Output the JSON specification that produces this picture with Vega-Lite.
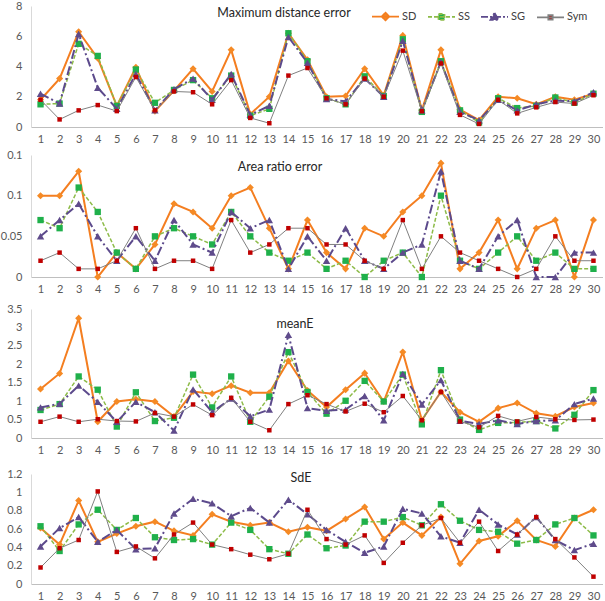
{
"$schema":"https://vega.github.io/schema/vega-lite/v6.json",
"padding":{"left":0,"top":0,"right":0,"bottom":0},
"autosize":{"type":"pad"},
"bounds":"flush",
"spacing":28,
"config":{
 "view":{"stroke":null},
 "font":"Lato",
 "axis":{"grid":false,"ticks":false,"labelFont":"Lato","labelFontSize":11,"labelColor":"#595959","domainColor":"#BFBFBF"},
 "axisX":{"labelAngle":0,"labelPadding":6},
 "axisY":{"labelPadding":9,"domainColor":"#D9D9D9"},
 "title":{"font":"Lato","fontSize":12.5,"fontWeight":400,"color":"#262626","anchor":"middle","frame":"group"},
 "style":{"group-title":{"font":"Lato","fontSize":12.5,"fontWeight":400},"guide-label":{"font":"Lato"}},
 "legend":{"labelFont":"Lato"}
},
"datasets":{
"p1":[
{"x":1,"s":"SD","v":1.8},{"x":1,"s":"SS","v":1.5},{"x":1,"s":"SG","v":2.2},{"x":1,"s":"Sym","v":1.8},
{"x":2,"s":"SD","v":3.2},{"x":2,"s":"SS","v":1.55},{"x":2,"s":"SG","v":1.55},{"x":2,"s":"Sym","v":0.5},
{"x":3,"s":"SD","v":6.3},{"x":3,"s":"SS","v":5.5},{"x":3,"s":"SG","v":6.15},{"x":3,"s":"Sym","v":1.1},
{"x":4,"s":"SD","v":4.55},{"x":4,"s":"SS","v":4.7},{"x":4,"s":"SG","v":2.6},{"x":4,"s":"Sym","v":1.45},
{"x":5,"s":"SD","v":1.4},{"x":5,"s":"SS","v":1.4},{"x":5,"s":"SG","v":1.2},{"x":5,"s":"Sym","v":1.05},
{"x":6,"s":"SD","v":3.95},{"x":6,"s":"SS","v":3.8},{"x":6,"s":"SG","v":3.5},{"x":6,"s":"Sym","v":3.3},
{"x":7,"s":"SD","v":1.05},{"x":7,"s":"SS","v":1.6},{"x":7,"s":"SG","v":1.1},{"x":7,"s":"Sym","v":1.1},
{"x":8,"s":"SD","v":2.4},{"x":8,"s":"SS","v":2.45},{"x":8,"s":"SG","v":2.5},{"x":8,"s":"Sym","v":2.35},
{"x":9,"s":"SD","v":3.85},{"x":9,"s":"SS","v":3.1},{"x":9,"s":"SG","v":3.2},{"x":9,"s":"Sym","v":2.3},
{"x":10,"s":"SD","v":2.35},{"x":10,"s":"SS","v":1.9},{"x":10,"s":"SG","v":1.8},{"x":10,"s":"Sym","v":1.5},
{"x":11,"s":"SD","v":5.1},{"x":11,"s":"SS","v":3.4},{"x":11,"s":"SG","v":3.5},{"x":11,"s":"Sym","v":3.1},
{"x":12,"s":"SD","v":0.85},{"x":12,"s":"SS","v":0.75},{"x":12,"s":"SG","v":0.8},{"x":12,"s":"Sym","v":0.6},
{"x":13,"s":"SD","v":2.0},{"x":13,"s":"SS","v":1.2},{"x":13,"s":"SG","v":1.4},{"x":13,"s":"Sym","v":0.25},
{"x":14,"s":"SD","v":6.2},{"x":14,"s":"SS","v":6.2},{"x":14,"s":"SG","v":5.95},{"x":14,"s":"Sym","v":3.4},
{"x":15,"s":"SD","v":4.45},{"x":15,"s":"SS","v":4.35},{"x":15,"s":"SG","v":4.25},{"x":15,"s":"Sym","v":3.9},
{"x":16,"s":"SD","v":2.0},{"x":16,"s":"SS","v":1.9},{"x":16,"s":"SG","v":1.85},{"x":16,"s":"Sym","v":1.9},
{"x":17,"s":"SD","v":2.05},{"x":17,"s":"SS","v":1.5},{"x":17,"s":"SG","v":1.7},{"x":17,"s":"Sym","v":1.5},
{"x":18,"s":"SD","v":3.85},{"x":18,"s":"SS","v":3.35},{"x":18,"s":"SG","v":3.2},{"x":18,"s":"Sym","v":3.2},
{"x":19,"s":"SD","v":2.1},{"x":19,"s":"SS","v":2.05},{"x":19,"s":"SG","v":2.0},{"x":19,"s":"Sym","v":2.0},
{"x":20,"s":"SD","v":6.05},{"x":20,"s":"SS","v":5.8},{"x":20,"s":"SG","v":5.7},{"x":20,"s":"Sym","v":5.05},
{"x":21,"s":"SD","v":1.1},{"x":21,"s":"SS","v":1.0},{"x":21,"s":"SG","v":1.1},{"x":21,"s":"Sym","v":1.05},
{"x":22,"s":"SD","v":5.1},{"x":22,"s":"SS","v":4.35},{"x":22,"s":"SG","v":4.3},{"x":22,"s":"Sym","v":4.2},
{"x":23,"s":"SD","v":1.15},{"x":23,"s":"SS","v":1.1},{"x":23,"s":"SG","v":1.0},{"x":23,"s":"Sym","v":0.8},
{"x":24,"s":"SD","v":0.45},{"x":24,"s":"SS","v":0.3},{"x":24,"s":"SG","v":0.45},{"x":24,"s":"Sym","v":0.2},
{"x":25,"s":"SD","v":2.0},{"x":25,"s":"SS","v":1.9},{"x":25,"s":"SG","v":1.8},{"x":25,"s":"Sym","v":1.8},
{"x":26,"s":"SD","v":1.9},{"x":26,"s":"SS","v":1.25},{"x":26,"s":"SG","v":1.1},{"x":26,"s":"Sym","v":0.9},
{"x":27,"s":"SD","v":1.5},{"x":27,"s":"SS","v":1.4},{"x":27,"s":"SG","v":1.5},{"x":27,"s":"Sym","v":1.3},
{"x":28,"s":"SD","v":2.0},{"x":28,"s":"SS","v":1.95},{"x":28,"s":"SG","v":1.75},{"x":28,"s":"Sym","v":1.65},
{"x":29,"s":"SD","v":1.8},{"x":29,"s":"SS","v":1.6},{"x":29,"s":"SG","v":1.7},{"x":29,"s":"Sym","v":1.55},
{"x":30,"s":"SD","v":2.2},{"x":30,"s":"SS","v":2.2},{"x":30,"s":"SG","v":2.3},{"x":30,"s":"Sym","v":2.1}
],
"p2":[
{"x":1,"s":"SD","v":0.10},{"x":1,"s":"SS","v":0.07},{"x":1,"s":"SG","v":0.05},{"x":1,"s":"Sym","v":0.02},
{"x":2,"s":"SD","v":0.10},{"x":2,"s":"SS","v":0.06},{"x":2,"s":"SG","v":0.07},{"x":2,"s":"Sym","v":0.03},
{"x":3,"s":"SD","v":0.13},{"x":3,"s":"SS","v":0.11},{"x":3,"s":"SG","v":0.09},{"x":3,"s":"Sym","v":0.01},
{"x":4,"s":"SD","v":0.00},{"x":4,"s":"SS","v":0.08},{"x":4,"s":"SG","v":0.05},{"x":4,"s":"Sym","v":0.01},
{"x":5,"s":"SD","v":0.03},{"x":5,"s":"SS","v":0.03},{"x":5,"s":"SG","v":0.02},{"x":5,"s":"Sym","v":0.02},
{"x":6,"s":"SD","v":0.01},{"x":6,"s":"SS","v":0.01},{"x":6,"s":"SG","v":0.05},{"x":6,"s":"Sym","v":0.06},
{"x":7,"s":"SD","v":0.04},{"x":7,"s":"SS","v":0.05},{"x":7,"s":"SG","v":0.02},{"x":7,"s":"Sym","v":0.01},
{"x":8,"s":"SD","v":0.09},{"x":8,"s":"SS","v":0.06},{"x":8,"s":"SG","v":0.07},{"x":8,"s":"Sym","v":0.02},
{"x":9,"s":"SD","v":0.08},{"x":9,"s":"SS","v":0.05},{"x":9,"s":"SG","v":0.04},{"x":9,"s":"Sym","v":0.02},
{"x":10,"s":"SD","v":0.06},{"x":10,"s":"SS","v":0.04},{"x":10,"s":"SG","v":0.03},{"x":10,"s":"Sym","v":0.01},
{"x":11,"s":"SD","v":0.10},{"x":11,"s":"SS","v":0.08},{"x":11,"s":"SG","v":0.08},{"x":11,"s":"Sym","v":0.07},
{"x":12,"s":"SD","v":0.11},{"x":12,"s":"SS","v":0.05},{"x":12,"s":"SG","v":0.06},{"x":12,"s":"Sym","v":0.03},
{"x":13,"s":"SD","v":0.06},{"x":13,"s":"SS","v":0.03},{"x":13,"s":"SG","v":0.07},{"x":13,"s":"Sym","v":0.04},
{"x":14,"s":"SD","v":0.01},{"x":14,"s":"SS","v":0.02},{"x":14,"s":"SG","v":0.01},{"x":14,"s":"Sym","v":0.06},
{"x":15,"s":"SD","v":0.07},{"x":15,"s":"SS","v":0.03},{"x":15,"s":"SG","v":0.05},{"x":15,"s":"Sym","v":0.06},
{"x":16,"s":"SD","v":0.03},{"x":16,"s":"SS","v":0.01},{"x":16,"s":"SG","v":0.02},{"x":16,"s":"Sym","v":0.04},
{"x":17,"s":"SD","v":0.01},{"x":17,"s":"SS","v":0.02},{"x":17,"s":"SG","v":0.06},{"x":17,"s":"Sym","v":0.04},
{"x":18,"s":"SD","v":0.06},{"x":18,"s":"SS","v":0.00},{"x":18,"s":"SG","v":0.02},{"x":18,"s":"Sym","v":0.02},
{"x":19,"s":"SD","v":0.05},{"x":19,"s":"SS","v":0.02},{"x":19,"s":"SG","v":0.01},{"x":19,"s":"Sym","v":0.01},
{"x":20,"s":"SD","v":0.08},{"x":20,"s":"SS","v":0.03},{"x":20,"s":"SG","v":0.03},{"x":20,"s":"Sym","v":0.07},
{"x":21,"s":"SD","v":0.10},{"x":21,"s":"SS","v":0.00},{"x":21,"s":"SG","v":0.04},{"x":21,"s":"Sym","v":0.01},
{"x":22,"s":"SD","v":0.14},{"x":22,"s":"SS","v":0.10},{"x":22,"s":"SG","v":0.13},{"x":22,"s":"Sym","v":0.05},
{"x":23,"s":"SD","v":0.01},{"x":23,"s":"SS","v":0.02},{"x":23,"s":"SG","v":0.02},{"x":23,"s":"Sym","v":0.03},
{"x":24,"s":"SD","v":0.03},{"x":24,"s":"SS","v":0.01},{"x":24,"s":"SG","v":0.01},{"x":24,"s":"Sym","v":0.02},
{"x":25,"s":"SD","v":0.07},{"x":25,"s":"SS","v":0.03},{"x":25,"s":"SG","v":0.05},{"x":25,"s":"Sym","v":0.01},
{"x":26,"s":"SD","v":0.01},{"x":26,"s":"SS","v":0.05},{"x":26,"s":"SG","v":0.07},{"x":26,"s":"Sym","v":0.00},
{"x":27,"s":"SD","v":0.06},{"x":27,"s":"SS","v":0.02},{"x":27,"s":"SG","v":0.00},{"x":27,"s":"Sym","v":0.01},
{"x":28,"s":"SD","v":0.07},{"x":28,"s":"SS","v":0.03},{"x":28,"s":"SG","v":0.00},{"x":28,"s":"Sym","v":0.05},
{"x":29,"s":"SD","v":0.00},{"x":29,"s":"SS","v":0.01},{"x":29,"s":"SG","v":0.03},{"x":29,"s":"Sym","v":0.02},
{"x":30,"s":"SD","v":0.07},{"x":30,"s":"SS","v":0.01},{"x":30,"s":"SG","v":0.03},{"x":30,"s":"Sym","v":0.02}
],
"p3":[
{"x":1,"s":"SD","v":1.33},{"x":1,"s":"SS","v":0.76},{"x":1,"s":"SG","v":0.83},{"x":1,"s":"Sym","v":0.44},
{"x":2,"s":"SD","v":1.75},{"x":2,"s":"SS","v":0.92},{"x":2,"s":"SG","v":0.93},{"x":2,"s":"Sym","v":0.58},
{"x":3,"s":"SD","v":3.25},{"x":3,"s":"SS","v":1.67},{"x":3,"s":"SG","v":1.42},{"x":3,"s":"Sym","v":0.44},
{"x":4,"s":"SD","v":0.44},{"x":4,"s":"SS","v":1.31},{"x":4,"s":"SG","v":0.98},{"x":4,"s":"Sym","v":0.51},
{"x":5,"s":"SD","v":0.99},{"x":5,"s":"SS","v":0.31},{"x":5,"s":"SG","v":0.44},{"x":5,"s":"Sym","v":0.46},
{"x":6,"s":"SD","v":1.05},{"x":6,"s":"SS","v":1.24},{"x":6,"s":"SG","v":0.98},{"x":6,"s":"Sym","v":0.45},
{"x":7,"s":"SD","v":0.99},{"x":7,"s":"SS","v":0.46},{"x":7,"s":"SG","v":0.7},{"x":7,"s":"Sym","v":0.68},
{"x":8,"s":"SD","v":0.58},{"x":8,"s":"SS","v":0.55},{"x":8,"s":"SG","v":0.2},{"x":8,"s":"Sym","v":0.58},
{"x":9,"s":"SD","v":1.26},{"x":9,"s":"SS","v":1.72},{"x":9,"s":"SG","v":1.32},{"x":9,"s":"Sym","v":0.91},
{"x":10,"s":"SD","v":1.2},{"x":10,"s":"SS","v":0.83},{"x":10,"s":"SG","v":0.7},{"x":10,"s":"Sym","v":0.62},
{"x":11,"s":"SD","v":1.42},{"x":11,"s":"SS","v":1.67},{"x":11,"s":"SG","v":1.07},{"x":11,"s":"Sym","v":1.09},
{"x":12,"s":"SD","v":1.23},{"x":12,"s":"SS","v":0.44},{"x":12,"s":"SG","v":0.59},{"x":12,"s":"Sym","v":0.44},
{"x":13,"s":"SD","v":1.23},{"x":13,"s":"SS","v":1.12},{"x":13,"s":"SG","v":0.77},{"x":13,"s":"Sym","v":0.21},
{"x":14,"s":"SD","v":2.09},{"x":14,"s":"SS","v":2.33},{"x":14,"s":"SG","v":2.8},{"x":14,"s":"Sym","v":0.92},
{"x":15,"s":"SD","v":1.29},{"x":15,"s":"SS","v":1.25},{"x":15,"s":"SG","v":0.81},{"x":15,"s":"Sym","v":1.16},
{"x":16,"s":"SD","v":0.84},{"x":16,"s":"SS","v":0.66},{"x":16,"s":"SG","v":0.74},{"x":16,"s":"Sym","v":0.92},
{"x":17,"s":"SD","v":1.31},{"x":17,"s":"SS","v":1.01},{"x":17,"s":"SG","v":0.77},{"x":17,"s":"Sym","v":0.72},
{"x":18,"s":"SD","v":1.76},{"x":18,"s":"SS","v":1.55},{"x":18,"s":"SG","v":1.14},{"x":18,"s":"Sym","v":0.93},
{"x":19,"s":"SD","v":0.99},{"x":19,"s":"SS","v":0.99},{"x":19,"s":"SG","v":0.48},{"x":19,"s":"Sym","v":0.7},
{"x":20,"s":"SD","v":2.33},{"x":20,"s":"SS","v":1.72},{"x":20,"s":"SG","v":1.74},{"x":20,"s":"Sym","v":1.14},
{"x":21,"s":"SD","v":0.49},{"x":21,"s":"SS","v":0.37},{"x":21,"s":"SG","v":0.91},{"x":21,"s":"Sym","v":0.48},
{"x":22,"s":"SD","v":1.25},{"x":22,"s":"SS","v":1.84},{"x":22,"s":"SG","v":1.57},{"x":22,"s":"Sym","v":1.25},
{"x":23,"s":"SD","v":0.7},{"x":23,"s":"SS","v":0.5},{"x":23,"s":"SG","v":0.47},{"x":23,"s":"Sym","v":0.45},
{"x":24,"s":"SD","v":0.44},{"x":24,"s":"SS","v":0.22},{"x":24,"s":"SG","v":0.38},{"x":24,"s":"Sym","v":0.29},
{"x":25,"s":"SD","v":0.81},{"x":25,"s":"SS","v":0.41},{"x":25,"s":"SG","v":0.48},{"x":25,"s":"Sym","v":0.6},
{"x":26,"s":"SD","v":0.95},{"x":26,"s":"SS","v":0.42},{"x":26,"s":"SG","v":0.38},{"x":26,"s":"Sym","v":0.45},
{"x":27,"s":"SD","v":0.67},{"x":27,"s":"SS","v":0.46},{"x":27,"s":"SG","v":0.46},{"x":27,"s":"Sym","v":0.57},
{"x":28,"s":"SD","v":0.59},{"x":28,"s":"SS","v":0.26},{"x":28,"s":"SG","v":0.48},{"x":28,"s":"Sym","v":0.51},
{"x":29,"s":"SD","v":0.84},{"x":29,"s":"SS","v":0.63},{"x":29,"s":"SG","v":0.92},{"x":29,"s":"Sym","v":0.49},
{"x":30,"s":"SD","v":0.95},{"x":30,"s":"SS","v":1.3},{"x":30,"s":"SG","v":1.07},{"x":30,"s":"Sym","v":0.5}
],
"p4":[
{"x":1,"s":"SD","v":0.61},{"x":1,"s":"SS","v":0.63},{"x":1,"s":"SG","v":0.41},{"x":1,"s":"Sym","v":0.18},
{"x":2,"s":"SD","v":0.43},{"x":2,"s":"SS","v":0.36},{"x":2,"s":"SG","v":0.61},{"x":2,"s":"Sym","v":0.39},
{"x":3,"s":"SD","v":0.91},{"x":3,"s":"SS","v":0.65},{"x":3,"s":"SG","v":0.73},{"x":3,"s":"Sym","v":0.48},
{"x":4,"s":"SD","v":0.46},{"x":4,"s":"SS","v":0.81},{"x":4,"s":"SG","v":0.46},{"x":4,"s":"Sym","v":1.01},
{"x":5,"s":"SD","v":0.55},{"x":5,"s":"SS","v":0.59},{"x":5,"s":"SG","v":0.59},{"x":5,"s":"Sym","v":0.35},
{"x":6,"s":"SD","v":0.63},{"x":6,"s":"SS","v":0.72},{"x":6,"s":"SG","v":0.38},{"x":6,"s":"Sym","v":0.41},
{"x":7,"s":"SD","v":0.68},{"x":7,"s":"SS","v":0.51},{"x":7,"s":"SG","v":0.39},{"x":7,"s":"Sym","v":0.28},
{"x":8,"s":"SD","v":0.58},{"x":8,"s":"SS","v":0.48},{"x":8,"s":"SG","v":0.77},{"x":8,"s":"Sym","v":0.54},
{"x":9,"s":"SD","v":0.53},{"x":9,"s":"SS","v":0.49},{"x":9,"s":"SG","v":0.93},{"x":9,"s":"Sym","v":0.67},
{"x":10,"s":"SD","v":0.76},{"x":10,"s":"SS","v":0.43},{"x":10,"s":"SG","v":0.88},{"x":10,"s":"Sym","v":0.43},
{"x":11,"s":"SD","v":0.68},{"x":11,"s":"SS","v":0.67},{"x":11,"s":"SG","v":0.74},{"x":11,"s":"Sym","v":0.38},
{"x":12,"s":"SD","v":0.64},{"x":12,"s":"SS","v":0.59},{"x":12,"s":"SG","v":0.83},{"x":12,"s":"Sym","v":0.32},
{"x":13,"s":"SD","v":0.67},{"x":13,"s":"SS","v":0.38},{"x":13,"s":"SG","v":0.67},{"x":13,"s":"Sym","v":0.27},
{"x":14,"s":"SD","v":0.57},{"x":14,"s":"SS","v":0.33},{"x":14,"s":"SG","v":0.92},{"x":14,"s":"Sym","v":0.33},
{"x":15,"s":"SD","v":0.62},{"x":15,"s":"SS","v":0.54},{"x":15,"s":"SG","v":0.76},{"x":15,"s":"Sym","v":0.81},
{"x":16,"s":"SD","v":0.58},{"x":16,"s":"SS","v":0.39},{"x":16,"s":"SG","v":0.59},{"x":16,"s":"Sym","v":0.49},
{"x":17,"s":"SD","v":0.71},{"x":17,"s":"SS","v":0.42},{"x":17,"s":"SG","v":0.46},{"x":17,"s":"Sym","v":0.43},
{"x":18,"s":"SD","v":0.84},{"x":18,"s":"SS","v":0.68},{"x":18,"s":"SG","v":0.34},{"x":18,"s":"Sym","v":0.53},
{"x":19,"s":"SD","v":0.49},{"x":19,"s":"SS","v":0.68},{"x":19,"s":"SG","v":0.41},{"x":19,"s":"Sym","v":0.23},
{"x":20,"s":"SD","v":0.67},{"x":20,"s":"SS","v":0.73},{"x":20,"s":"SG","v":0.82},{"x":20,"s":"Sym","v":0.45},
{"x":21,"s":"SD","v":0.53},{"x":21,"s":"SS","v":0.64},{"x":21,"s":"SG","v":0.77},{"x":21,"s":"Sym","v":0.64},
{"x":22,"s":"SD","v":0.73},{"x":22,"s":"SS","v":0.87},{"x":22,"s":"SG","v":0.52},{"x":22,"s":"Sym","v":0.72},
{"x":23,"s":"SD","v":0.22},{"x":23,"s":"SS","v":0.69},{"x":23,"s":"SG","v":0.45},{"x":23,"s":"Sym","v":0.45},
{"x":24,"s":"SD","v":0.47},{"x":24,"s":"SS","v":0.59},{"x":24,"s":"SG","v":0.81},{"x":24,"s":"Sym","v":0.68},
{"x":25,"s":"SD","v":0.52},{"x":25,"s":"SS","v":0.57},{"x":25,"s":"SG","v":0.65},{"x":25,"s":"Sym","v":0.36},
{"x":26,"s":"SD","v":0.69},{"x":26,"s":"SS","v":0.44},{"x":26,"s":"SG","v":0.54},{"x":26,"s":"Sym","v":0.54},
{"x":27,"s":"SD","v":0.48},{"x":27,"s":"SS","v":0.48},{"x":27,"s":"SG","v":0.73},{"x":27,"s":"Sym","v":0.73},
{"x":28,"s":"SD","v":0.41},{"x":28,"s":"SS","v":0.65},{"x":28,"s":"SG","v":0.48},{"x":28,"s":"Sym","v":0.49},
{"x":29,"s":"SD","v":0.72},{"x":29,"s":"SS","v":0.72},{"x":29,"s":"SG","v":0.37},{"x":29,"s":"Sym","v":0.29},
{"x":30,"s":"SD","v":0.81},{"x":30,"s":"SS","v":0.53},{"x":30,"s":"SG","v":0.44},{"x":30,"s":"Sym","v":0.08}
]
},
"vconcat":[
{
 "width":572,"height":121,
 "title":{"text":"Maximum distance error","dx":-33,"dy":23,"font":"Lato","fontSize":12.5,"fontWeight":400,"color":"#262626"},
 "data":{"name":"p1"},
 "encoding":{
  "x":{"field":"x","type":"ordinal","title":null,"scale":{"type":"point","padding":0.5}},
  "y":{"field":"v","type":"quantitative","title":null,"scale":{"domain":[0,8],"nice":false},"axis":{"values":[0,2,4,6,8],"format":"~g"}}
 },
 "layer":[
  {"transform":[{"filter":"datum.s=='SD'"}],"mark":{"type":"line","color":"#F47E20","strokeWidth":2}},
  {"transform":[{"filter":"datum.s=='SD'"}],"mark":{"type":"point","shape":"diamond","filled":true,"color":"#F58A25","size":50,"opacity":1}},
  {"transform":[{"filter":"datum.s=='SS'"}],"mark":{"type":"line","color":"#8DBB48","strokeWidth":1.5,"strokeDash":[4,2]}},
  {"transform":[{"filter":"datum.s=='SS'"}],"mark":{"type":"point","shape":"square","filled":true,"color":"#1FB04B","size":40,"opacity":1}},
  {"transform":[{"filter":"datum.s=='SG'"}],"mark":{"type":"line","color":"#5C4A8C","strokeWidth":2,"strokeDash":[9,3,2,3]}},
  {"transform":[{"filter":"datum.s=='SG'"}],"mark":{"type":"point","shape":"triangle-up","filled":true,"color":"#5F4B8B","size":55,"opacity":1}},
  {"transform":[{"filter":"datum.s=='Sym'"}],"mark":{"type":"line","color":"#808080","strokeWidth":1}},
  {"transform":[{"filter":"datum.s=='Sym'"}],"mark":{"type":"point","shape":"square","filled":true,"color":"#C00000","size":20,"opacity":1}},
  {"transform":[{"filter":"datum.x > 100"}],"mark":{"type":"point","filled":true},
   "encoding":{
    "shape":{"field":"s","type":"nominal","scale":{"domain":["SD","SS","SG","Sym"],"range":["M-1,0H1M0,-0.28L0.28,0L0,0.28L-0.28,0Z","M-1,0H1M-0.22,-0.22H0.22V0.22H-0.22Z","M-1,0H1M0,-0.3L0.3,0.22H-0.3Z","M-1,0H1M-0.16,-0.16H0.16V0.16H-0.16Z"]},
     "legend":{"orient":"none","legendX":340,"legendY":-4,"direction":"horizontal","columns":4,"title":null,"symbolSize":729,"symbolStrokeWidth":1.8,"labelFont":"Lato","labelFontSize":11,"labelColor":"#404040","labelOffset":2,"columnPadding":7,"padding":0,"symbolOpacity":1}},
    "fill":{"field":"s","type":"nominal","scale":{"domain":["SD","SS","SG","Sym"],"range":["#F58A25","#1FB04B","#5F4B8B","#C00000"]}},
    "stroke":{"field":"s","type":"nominal","scale":{"domain":["SD","SS","SG","Sym"],"range":["#F47E20","#8DBB48","#5C4A8C","#808080"]}},
    "strokeDash":{"field":"s","type":"nominal","scale":{"domain":["SD","SS","SG","Sym"],"range":[[1,0],[4,2],[7,2,2,2],[1,0]]}}
   }}
 ]
},
{
 "width":572,"height":122,
 "title":{"text":"Area ratio error","dx":-37,"dy":28,"font":"Lato","fontSize":12.5,"fontWeight":400,"color":"#262626"},
 "data":{"name":"p2"},
 "encoding":{
  "x":{"field":"x","type":"ordinal","title":null,"scale":{"type":"point","padding":0.5}},
  "y":{"field":"v","type":"quantitative","title":null,"scale":{"domain":[0,0.15],"nice":false},"axis":{"values":[0,0.05,0.1,0.15],"format":"~g"}}
 },
 "layer":[
  {"transform":[{"filter":"datum.s=='SD'"}],"mark":{"type":"line","color":"#F47E20","strokeWidth":2}},
  {"transform":[{"filter":"datum.s=='SD'"}],"mark":{"type":"point","shape":"diamond","filled":true,"color":"#F58A25","size":50,"opacity":1}},
  {"transform":[{"filter":"datum.s=='SS'"}],"mark":{"type":"line","color":"#8DBB48","strokeWidth":1.5,"strokeDash":[4,2]}},
  {"transform":[{"filter":"datum.s=='SS'"}],"mark":{"type":"point","shape":"square","filled":true,"color":"#1FB04B","size":40,"opacity":1}},
  {"transform":[{"filter":"datum.s=='SG'"}],"mark":{"type":"line","color":"#5C4A8C","strokeWidth":2,"strokeDash":[9,3,2,3]}},
  {"transform":[{"filter":"datum.s=='SG'"}],"mark":{"type":"point","shape":"triangle-up","filled":true,"color":"#5F4B8B","size":55,"opacity":1}},
  {"transform":[{"filter":"datum.s=='Sym'"}],"mark":{"type":"line","color":"#808080","strokeWidth":1}},
  {"transform":[{"filter":"datum.s=='Sym'"}],"mark":{"type":"point","shape":"square","filled":true,"color":"#C00000","size":20,"opacity":1}}
 ]
},
{
 "width":572,"height":133,
 "title":{"text":"meanE","dx":-22,"dy":31,"font":"Lato","fontSize":12.5,"fontWeight":400,"color":"#262626"},
 "data":{"name":"p3"},
 "encoding":{
  "x":{"field":"x","type":"ordinal","title":null,"scale":{"type":"point","padding":0.5}},
  "y":{"field":"v","type":"quantitative","title":null,"scale":{"domain":[0,3.5],"nice":false,"range":[133,4]},"axis":{"values":[0,0.5,1,1.5,2,2.5,3,3.5],"format":"~g"}}
 },
 "layer":[
  {"transform":[{"filter":"datum.s=='SD'"}],"mark":{"type":"line","color":"#F47E20","strokeWidth":2}},
  {"transform":[{"filter":"datum.s=='SD'"}],"mark":{"type":"point","shape":"diamond","filled":true,"color":"#F58A25","size":50,"opacity":1}},
  {"transform":[{"filter":"datum.s=='SS'"}],"mark":{"type":"line","color":"#8DBB48","strokeWidth":1.5,"strokeDash":[4,2]}},
  {"transform":[{"filter":"datum.s=='SS'"}],"mark":{"type":"point","shape":"square","filled":true,"color":"#1FB04B","size":40,"opacity":1}},
  {"transform":[{"filter":"datum.s=='SG'"}],"mark":{"type":"line","color":"#5C4A8C","strokeWidth":2,"strokeDash":[9,3,2,3]}},
  {"transform":[{"filter":"datum.s=='SG'"}],"mark":{"type":"point","shape":"triangle-up","filled":true,"color":"#5F4B8B","size":55,"opacity":1}},
  {"transform":[{"filter":"datum.s=='Sym'"}],"mark":{"type":"line","color":"#808080","strokeWidth":1}},
  {"transform":[{"filter":"datum.s=='Sym'"}],"mark":{"type":"point","shape":"square","filled":true,"color":"#C00000","size":20,"opacity":1}}
 ]
},
{
 "width":572,"height":118,
 "title":{"text":"SdE","dx":-16,"dy":22,"font":"Lato","fontSize":12.5,"fontWeight":400,"color":"#262626"},
 "data":{"name":"p4"},
 "encoding":{
  "x":{"field":"x","type":"ordinal","title":null,"scale":{"type":"point","padding":0.5}},
  "y":{"field":"v","type":"quantitative","title":null,"scale":{"domain":[0,1.2],"nice":false,"range":[118,8]},"axis":{"values":[0,0.2,0.4,0.6,0.8,1,1.2],"format":"~g"}}
 },
 "layer":[
  {"transform":[{"filter":"datum.s=='SD'"}],"mark":{"type":"line","color":"#F47E20","strokeWidth":2}},
  {"transform":[{"filter":"datum.s=='SD'"}],"mark":{"type":"point","shape":"diamond","filled":true,"color":"#F58A25","size":50,"opacity":1}},
  {"transform":[{"filter":"datum.s=='SS'"}],"mark":{"type":"line","color":"#8DBB48","strokeWidth":1.5,"strokeDash":[4,2]}},
  {"transform":[{"filter":"datum.s=='SS'"}],"mark":{"type":"point","shape":"square","filled":true,"color":"#1FB04B","size":40,"opacity":1}},
  {"transform":[{"filter":"datum.s=='SG'"}],"mark":{"type":"line","color":"#5C4A8C","strokeWidth":2,"strokeDash":[9,3,2,3]}},
  {"transform":[{"filter":"datum.s=='SG'"}],"mark":{"type":"point","shape":"triangle-up","filled":true,"color":"#5F4B8B","size":55,"opacity":1}},
  {"transform":[{"filter":"datum.s=='Sym'"}],"mark":{"type":"line","color":"#808080","strokeWidth":1}},
  {"transform":[{"filter":"datum.s=='Sym'"}],"mark":{"type":"point","shape":"square","filled":true,"color":"#C00000","size":20,"opacity":1}}
 ]
}
]
}
